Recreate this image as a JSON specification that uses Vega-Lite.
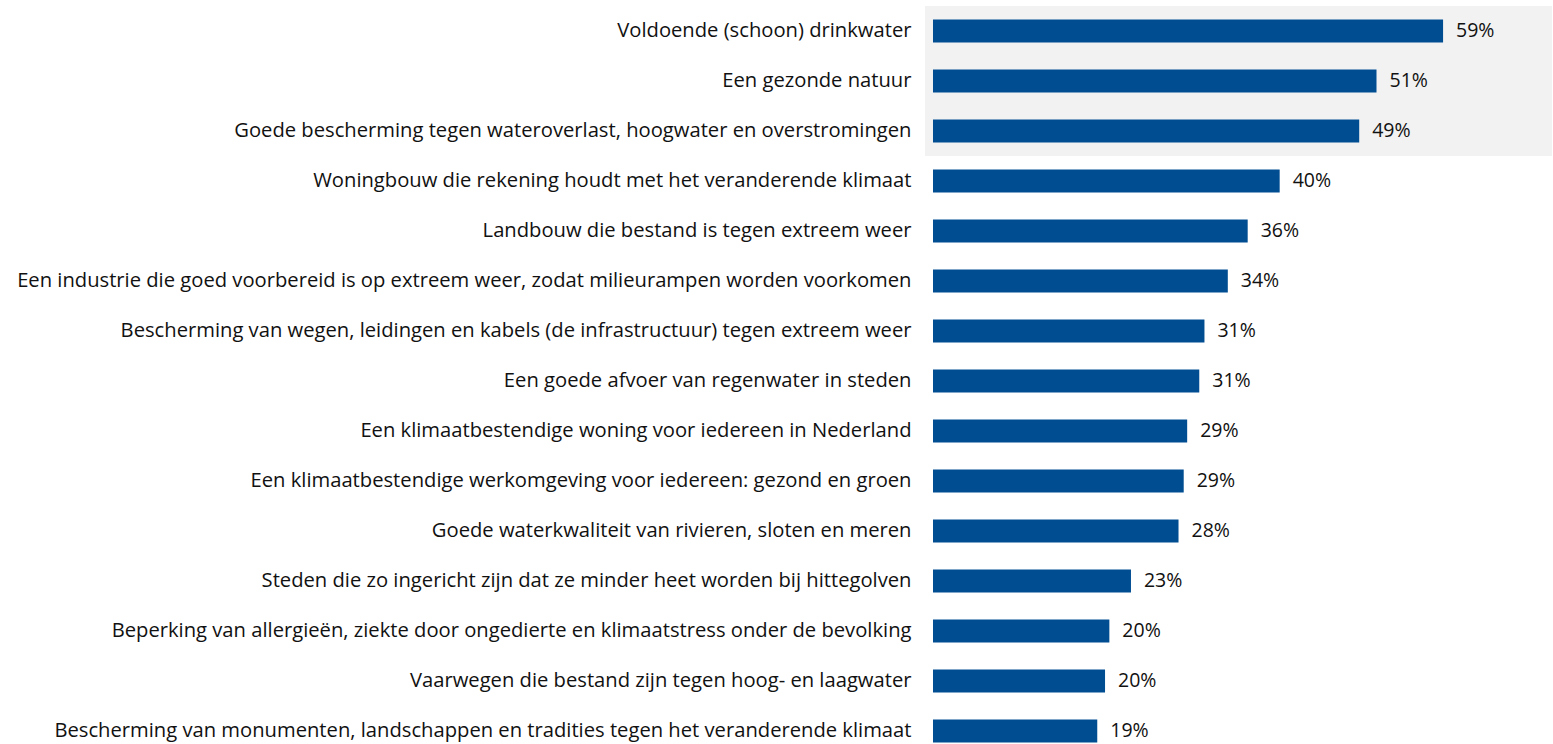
{
  "$schema": "https://vega.github.io/schema/vega-lite/v6.json",
  "width": 627,
  "height": 750,
  "padding": {"top": 6, "left": 5, "right": 0, "bottom": 0},
  "background": "#ffffff",
  "config": {"view": {"stroke": null}, "font": "Open Sans"},
  "data": {
    "values": [
      {"item": "Voldoende (schoon) drinkwater", "share": 0.590},
      {"item": "Een gezonde natuur", "share": 0.513},
      {"item": "Goede bescherming tegen wateroverlast, hoogwater en overstromingen", "share": 0.493},
      {"item": "Woningbouw die rekening houdt met het veranderende klimaat", "share": 0.401},
      {"item": "Landbouw die bestand is tegen extreem weer", "share": 0.364},
      {"item": "Een industrie die goed voorbereid is op extreem weer, zodat milieurampen worden voorkomen", "share": 0.341},
      {"item": "Bescherming van wegen, leidingen en kabels (de infrastructuur) tegen extreem weer", "share": 0.314},
      {"item": "Een goede afvoer van regenwater in steden", "share": 0.308},
      {"item": "Een klimaatbestendige woning voor iedereen in Nederland", "share": 0.294},
      {"item": "Een klimaatbestendige werkomgeving voor iedereen: gezond en groen", "share": 0.290},
      {"item": "Goede waterkwaliteit van rivieren, sloten en meren", "share": 0.284},
      {"item": "Steden die zo ingericht zijn dat ze minder heet worden bij hittegolven", "share": 0.229},
      {"item": "Beperking van allergieën, ziekte door ongedierte en klimaatstress onder de bevolking", "share": 0.204},
      {"item": "Vaarwegen die bestand zijn tegen hoog- en laagwater", "share": 0.199},
      {"item": "Bescherming van monumenten, landschappen en tradities tegen het veranderende klimaat", "share": 0.190}
    ]
  },
  "encoding": {
    "y": {
      "field": "item",
      "type": "nominal",
      "sort": null,
      "scale": {"paddingInner": 0, "paddingOuter": 0},
      "axis": {
        "title": null,
        "domain": false,
        "ticks": false,
        "grid": false,
        "labelFont": "Open Sans",
        "labelFontSize": 20.2,
        "labelColor": "#111111",
        "labelPadding": 14,
        "labelLimit": 1200,
        "minExtent": 920,
        "maxExtent": 920
      }
    }
  },
  "layer": [
    {
      "transform": [
        {"filter": {"field": "item", "oneOf": ["Voldoende (schoon) drinkwater", "Een gezonde natuur", "Goede bescherming tegen wateroverlast, hoogwater en overstromingen"]}}
      ],
      "mark": {"type": "rect", "color": "#f2f2f2"},
      "encoding": {}
    },
    {
      "mark": {"type": "bar", "color": "#004d91", "height": {"band": 0.46}},
      "encoding": {
        "x": {
          "field": "share",
          "type": "quantitative",
          "scale": {"domain": [-0.00925, 0.716], "nice": false, "zero": false},
          "axis": null
        }
      }
    },
    {
      "mark": {"type": "text", "align": "left", "baseline": "middle", "dx": 13, "fontSize": 19.5, "font": "Open Sans", "color": "#111111"},
      "encoding": {
        "x": {"field": "share", "type": "quantitative"},
        "text": {"field": "share", "type": "quantitative", "format": ".0%"}
      }
    }
  ]
}
